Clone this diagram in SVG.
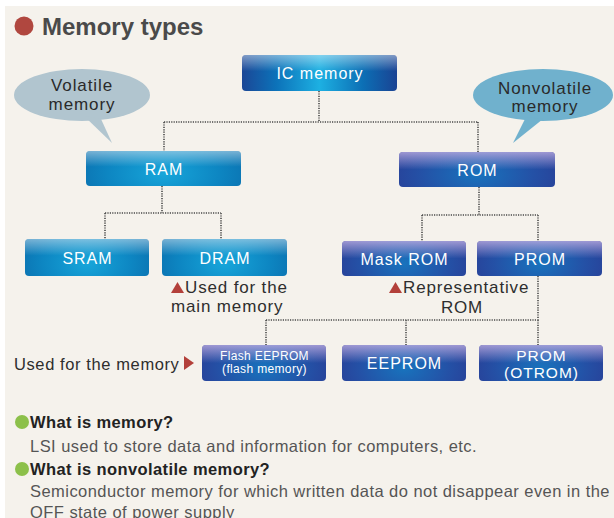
<svg xmlns="http://www.w3.org/2000/svg" width="614" height="518" viewBox="0 0 614 518">
<defs>
<linearGradient id="gIC" x1="0" y1="0" x2="1" y2="0">
<stop offset="0" stop-color="#1b4796"/>
<stop offset="0.22" stop-color="#0c72b9"/>
<stop offset="0.5" stop-color="#1db0e2"/>
<stop offset="0.78" stop-color="#0c6fb5"/>
<stop offset="1" stop-color="#1a4393"/>
</linearGradient>
<radialGradient id="gRAM" cx="0.5" cy="0.65" r="0.6" gradientTransform="translate(0.5 0.65) scale(1 2.2) translate(-0.5 -0.65)">
<stop offset="0" stop-color="#17a6da"/>
<stop offset="0.6" stop-color="#0d86c2"/>
<stop offset="1" stop-color="#0b6fae"/>
</radialGradient>
<radialGradient id="gROM" cx="0.5" cy="0.65" r="0.6" gradientTransform="translate(0.5 0.65) scale(1 2.2) translate(-0.5 -0.65)">
<stop offset="0" stop-color="#1873bd"/>
<stop offset="0.6" stop-color="#2451a6"/>
<stop offset="1" stop-color="#293e96"/>
</radialGradient>
<linearGradient id="gHiBlue" x1="0" y1="0" x2="0" y2="1">
<stop offset="0" stop-color="#ffffff" stop-opacity="0.45"/>
<stop offset="0.45" stop-color="#ffffff" stop-opacity="0"/>
</linearGradient>
<linearGradient id="gHiRom" x1="0" y1="0" x2="0" y2="1">
<stop offset="0" stop-color="#c6b4e6" stop-opacity="0.75"/>
<stop offset="0.5" stop-color="#c6b4e6" stop-opacity="0"/>
</linearGradient>
</defs>
<style>
.bx{stroke:none}
.lbl{font-family:"Liberation Sans",Arial,sans-serif;font-size:16px;letter-spacing:1px;fill:#ffffff;text-anchor:middle}
.sm{font-size:12px;letter-spacing:0.35px}
.tight{font-size:15.5px}
.conn{fill:none;stroke:#4a4a4a;stroke-width:1.6;stroke-dasharray:1.2 1.2}
.note{font-family:"Liberation Sans",Arial,sans-serif;font-size:17px;letter-spacing:0.85px;fill:#2e2e2e}
.bub{font-family:"Liberation Sans",Arial,sans-serif;font-size:17px;letter-spacing:0.9px;fill:#2a2a2a;text-anchor:middle}
.hd{font-family:"Liberation Sans",Arial,sans-serif;font-size:16.5px;font-weight:bold;letter-spacing:0.4px;fill:#222222}
.body{font-family:"Liberation Sans",Arial,sans-serif;font-size:16.5px;letter-spacing:0.45px;fill:#555555}
.red{fill:#b3403a}
.grn{fill:#8cc04a}
</style>
<rect x="0" y="0" width="614" height="518" fill="#ffffff"/>
<rect x="5" y="6" width="609" height="512" fill="#f5f2ec"/>

<g id="title">
<circle cx="24" cy="26" r="9.5" fill="#b0473f"/>
<text x="42" y="35" font-family="Liberation Sans, Arial, sans-serif" font-size="24" font-weight="bold" fill="#4a4a4a">Memory types</text>
</g>

<g id="connectors">
<path class="conn" d="M319 91 V122 M164 122 H478 M164 122 V151 M478 122 V152"/>
<path class="conn" d="M162 186 V213 M105 213 H221 M105 213 V239 M221 213 V239"/>
<path class="conn" d="M479 187 V215 M422 215 H538 M422 215 V241 M538 215 V241"/>
<path class="conn" d="M538 276 V320 M266 320 H538 M266 320 V345 M406 320 V345 M538 320 V345"/>
</g>

<g id="volatile-bubble">
<ellipse cx="82" cy="95" rx="68" ry="26" fill="#b1c5cf"/>
<polygon points="84,116 101,119 112,143" fill="#b1c5cf"/>
<text class="bub" x="82" y="91">Volatile</text>
<text class="bub" x="82" y="110">memory</text>
</g>

<g id="nonvolatile-bubble">
<ellipse cx="543" cy="95" rx="70" ry="26" fill="#70b1cd"/>
<polygon points="526,117 543,119 513,143" fill="#70b1cd"/>
<text class="bub" x="545" y="94">Nonvolatile</text>
<text class="bub" x="545" y="112">memory</text>
</g>

<g id="ic-memory">
<rect class="bx" x="242" y="55" width="155" height="36" rx="4" fill="url(#gIC)"/>
<rect class="bx" x="242" y="55" width="155" height="36" rx="4" fill="url(#gHiBlue)"/>
<text class="lbl" x="320" y="79">IC memory</text>
</g>

<g id="ram">
<rect class="bx" x="86" y="151" width="155" height="35" rx="4" fill="url(#gRAM)"/>
<rect class="bx" x="86" y="151" width="155" height="35" rx="4" fill="url(#gHiBlue)"/>
<text class="lbl" x="164" y="175">RAM</text>
</g>

<g id="rom">
<rect class="bx" x="399" y="152" width="156" height="35" rx="4" fill="url(#gROM)"/>
<rect class="bx" x="399" y="152" width="156" height="35" rx="4" fill="url(#gHiRom)"/>
<text class="lbl" x="477.5" y="176">ROM</text>
</g>

<g id="sram">
<rect class="bx" x="25" y="239" width="124" height="37" rx="4" fill="url(#gRAM)"/>
<rect class="bx" x="25" y="239" width="124" height="37" rx="4" fill="url(#gHiBlue)"/>
<text class="lbl" x="87.5" y="264">SRAM</text>
</g>

<g id="dram">
<rect class="bx" x="162" y="239" width="125" height="37" rx="4" fill="url(#gRAM)"/>
<rect class="bx" x="162" y="239" width="125" height="37" rx="4" fill="url(#gHiBlue)"/>
<text class="lbl" x="225" y="264">DRAM</text>
</g>

<g id="mask-rom">
<rect class="bx" x="342" y="241" width="124" height="35" rx="4" fill="url(#gROM)"/>
<rect class="bx" x="342" y="241" width="124" height="35" rx="4" fill="url(#gHiRom)"/>
<text class="lbl" x="404.5" y="265">Mask ROM</text>
</g>

<g id="prom">
<rect class="bx" x="477" y="241" width="125" height="35" rx="4" fill="url(#gROM)"/>
<rect class="bx" x="477" y="241" width="125" height="35" rx="4" fill="url(#gHiRom)"/>
<text class="lbl" x="540" y="265">PROM</text>
</g>

<g id="flash-eeprom">
<rect class="bx" x="202" y="345" width="124" height="36" rx="4" fill="url(#gROM)"/>
<rect class="bx" x="202" y="345" width="124" height="36" rx="4" fill="url(#gHiRom)"/>
<text class="lbl sm" x="264.5" y="360">Flash EEPROM</text>
<text class="lbl sm" x="264.5" y="373">(flash memory)</text>
</g>

<g id="eeprom">
<rect class="bx" x="342" y="345" width="124" height="36" rx="4" fill="url(#gROM)"/>
<rect class="bx" x="342" y="345" width="124" height="36" rx="4" fill="url(#gHiRom)"/>
<text class="lbl" x="404.5" y="369">EEPROM</text>
</g>

<g id="prom-otrom">
<rect class="bx" x="479" y="345" width="124" height="36" rx="4" fill="url(#gROM)"/>
<rect class="bx" x="479" y="345" width="124" height="36" rx="4" fill="url(#gHiRom)"/>
<text class="lbl tight" x="541.5" y="361">PROM</text>
<text class="lbl tight" x="541.5" y="377.5">(OTROM)</text>
</g>

<g id="annotations">
<polygon class="red" points="171,293 184,293 177.5,282"/>
<text class="note" x="185" y="293">Used for the</text>
<text class="note" x="171" y="312">main memory</text>
<polygon class="red" points="389,293 402,293 395.5,282"/>
<text class="note" x="403" y="293">Representative</text>
<text class="note" x="462" y="313" text-anchor="middle">ROM</text>
<text class="note" x="14" y="370" style="font-size:16.5px;letter-spacing:0.6px">Used for the memory</text>
<polygon class="red" points="184,356 184,370 194,363"/>
</g>

<g id="notes">
<circle class="grn" cx="22" cy="422" r="7"/>
<text class="hd" x="30" y="428">What is memory?</text>
<text class="body" x="30" y="452">LSI used to store data and information for computers, etc.</text>
<circle class="grn" cx="22" cy="469" r="7"/>
<text class="hd" x="30" y="475">What is nonvolatile memory?</text>
<text class="body" x="30" y="497">Semiconductor memory for which written data do not disappear even in the</text>
<text class="body" x="30" y="518">OFF state of power supply</text>
</g>
</svg>
